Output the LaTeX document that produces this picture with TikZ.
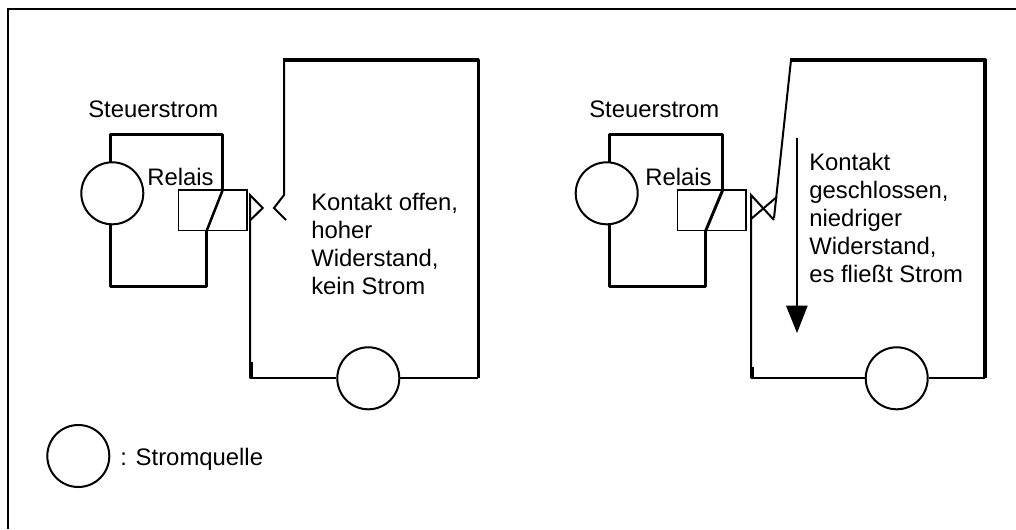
\documentclass[tikz,border=0pt]{standalone}
\usepackage{fontspec}
\setmainfont{Liberation Sans}
\tikzset{
 x=0.75pt,y=-0.75pt,
 thinw/.style={line width=1.5pt,line join=miter},
 medw/.style={line width=1.9pt,line join=round},
 thickw/.style={line width=2.6pt,line join=round},
 src/.style={circle,draw,line width=1.5pt,minimum size=46.5pt,inner sep=0pt,fill=white},
 relay/.style={rectangle,draw,line width=1pt,minimum width=51.5pt,minimum height=30.5pt,inner sep=0pt},
 lbl/.style={font=\fontsize{17.9pt}{21pt}\selectfont,inner sep=0pt,align=left,anchor=base west,text=black},
}
\begin{document}
\begin{tikzpicture}
\useasboundingbox (0,0) rectangle (1016,529);
\fill[white] (0,0) rectangle (1016,529);
\draw[line width=1.2pt] (8,529) -- (8,9) -- (1016,9);
% left
\coordinate (LTR) at (222.7,134.3);
\coordinate (LDA) at (222.7,190); \coordinate (LDB) at (206.7,230.7);
\coordinate (LBR) at (206.7,286.7);
\draw[thickw] (110.7,165) -- (110.7,134.3) -- (LTR) -- (LDA);
\draw[thickw] (LDB) -- (LBR) -- (110.7,286.7) -- (110.7,225);
\node[relay] (LR) at (212.8,210.3) {};
\draw[line width=1.9pt] (LDA) -- (LDB);
\node[src] (LS) at (112.3,193.3) {};
\coordinate (LC1) at (250,195); \coordinate (LC2) at (250,378.3);
\coordinate (LT1) at (262.7,208); \coordinate (LT2) at (250.5,220);
\draw[thinw] (LC2) -- (LC1) -- (LT1) -- (LT2);
\coordinate (LW1) at (284,60); \coordinate (LW2) at (284,195);
\draw[thinw] (LW1) -- (LW2) -- (274,208) -- (286,220);
\draw[thickw] (283,60) -- (478.3,60) -- (478.3,378.3);
\node[src] (LB) at (368.3,378.3) {};
\draw[thinw] (LC2) -- (LB) (LB) -- (478.3,378.3);
\draw[line width=2pt] (252,362) -- (252,378.3);
\node[lbl] (t1a) at (311,210) {Kontakt offen,};
\node[lbl] (t1b) at (311,238) {hoher};
\node[lbl] (t1c) at (311,266) {Widerstand,};
\node[lbl] (t1d) at (311,294) {kein Strom};
\node[lbl] (s1) at (88,117) {Steuerstrom};
\node[lbl] (r1) at (147,185) {Relais};
% right
\coordinate (RTR) at (722.7,134.3); \coordinate (RDA) at (722.7,190);
\coordinate (RDB) at (705.7,230.7); \coordinate (RBR) at (705.7,286.7);
\draw[medw] (609.3,165) -- (609.3,134.3) -- (RTR) -- (RDA);
\draw[thickw] (RDB) -- (RBR) -- (609.3,286.7) -- (609.3,225);
\node[relay] (RR) at (711.5,210.3) {};
\draw[line width=2.2pt] (RDA) -- (RDB);
\node[src] (RS) at (606.7,193.3) {};
\coordinate (RC1) at (751,195); \coordinate (RC2) at (751,378.3);
\draw[thinw] (RC2) -- (RC1) -- (774,220);
\draw[thinw] (751,219) -- (776.7,197);
\draw[thinw] (774,218) -- (791,60);
\draw[line width=3pt,line join=round] (790,60) -- (985,60) -- (985,378.3);
\node[src] (RB) at (896.7,378.3) {};
\draw[thinw] (RC2) -- (RB) (RB) -- (985,378.3);
\draw[line width=2pt] (752.5,367) -- (752.5,378.3);
\coordinate (A1) at (797,138); \coordinate (A2) at (797,306);
\draw[line width=1.5pt] (A1) -- (A2);
\fill (786,305.7) -- (807.7,305.7) -- (797,333) -- cycle;
\node[lbl] (t2a) at (809,170) {Kontakt};
\node[lbl] (t2b) at (809,198) {geschlossen,};
\node[lbl] (t2c) at (809,226) {niedriger};
\node[lbl] (t2d) at (809,254) {Widerstand,};
\node[lbl] (t2e) at (809,282) {es fließt Strom};
\node[lbl] (s2) at (589,117) {Steuerstrom};
\node[lbl] (r2) at (645,185) {Relais};
% legend
\node[src] (LG) at (78.3,456) {};
\node[lbl] (lg) at (120,465) {: Stromquelle};
\end{tikzpicture}
\end{document}
